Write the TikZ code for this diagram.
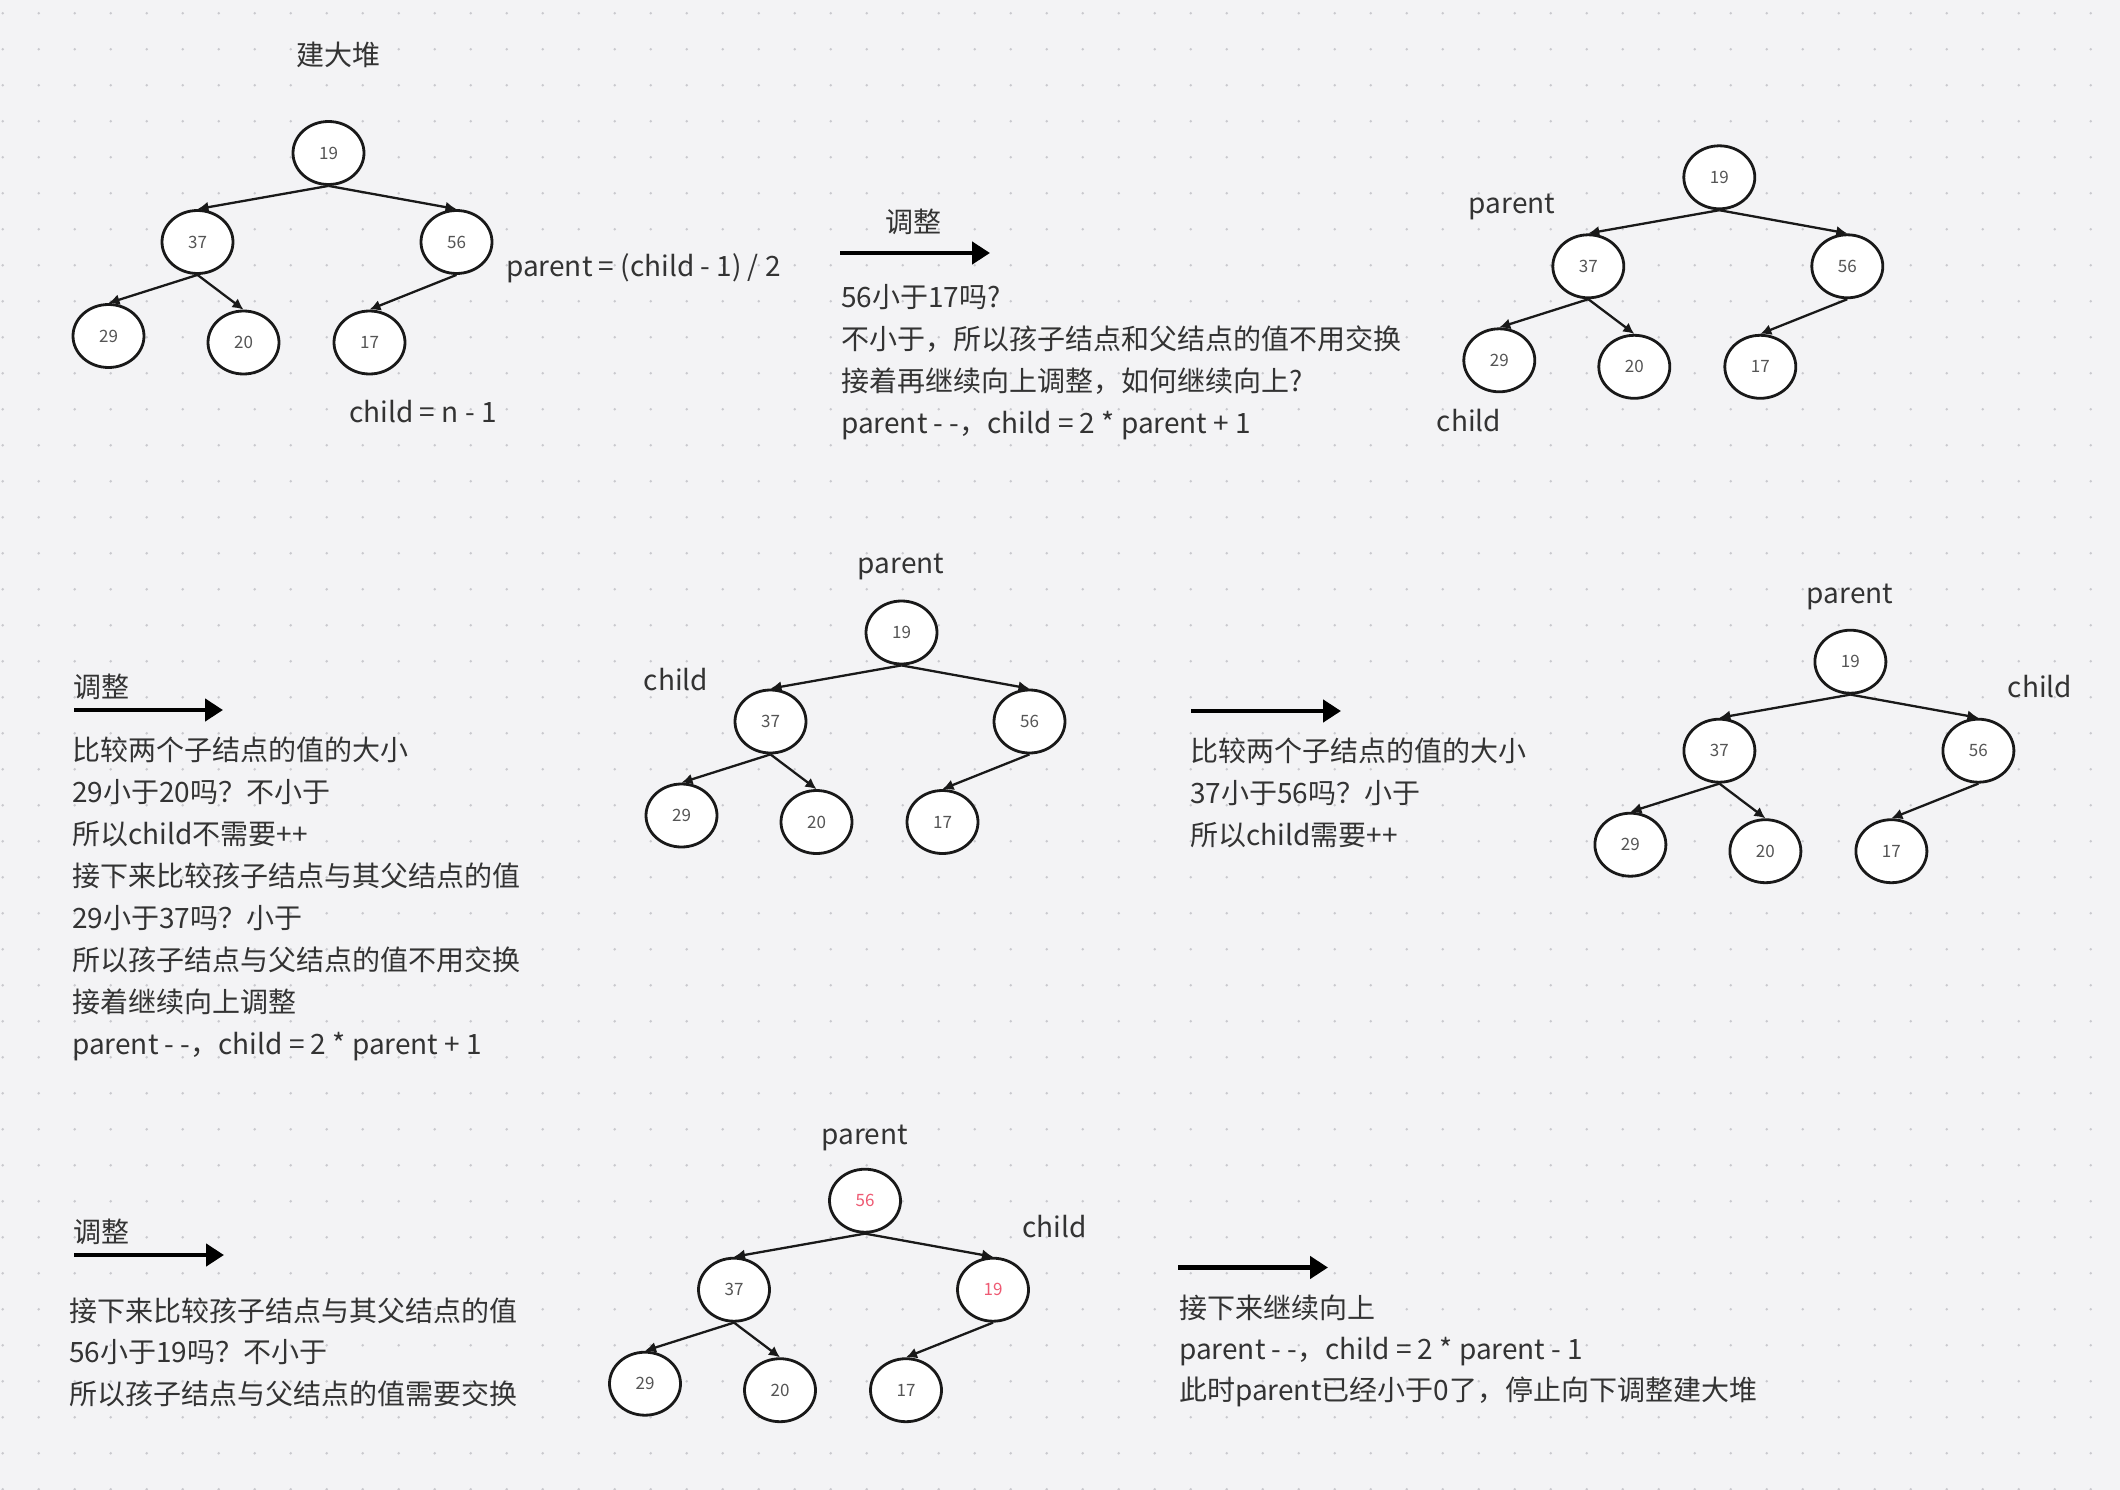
\documentclass[tikz,border=0pt]{standalone}
\usepackage{fontspec}
\usetikzlibrary{arrows.meta,shapes.geometric}
\newfontfamily\cjk{Noto Sans CJK SC}
\definecolor{bgc}{HTML}{F3F3F5}
\definecolor{dotc}{HTML}{C9C9CE}
\definecolor{tcol}{HTML}{333333}
\definecolor{ncol}{HTML}{555555}
\definecolor{hred}{HTML}{EE5A73}
\tikzset{
  txt/.style={font=\cjk\fontsize{28pt}{34pt}\selectfont, text=tcol, inner sep=0pt, text height=24.6pt, text depth=3.4pt},
  hnode/.style={ellipse, draw=black!90, line width=2.8pt, fill=white, minimum width=71pt, minimum height=63pt, inner sep=0pt, font=\cjk\fontsize{17pt}{20pt}\selectfont, text=ncol},
  hedge/.style={line width=2.3pt, draw=black!90, -{Latex[length=11pt,width=11pt]}},
  bigarrow/.style={line width=4.5pt, draw=black, -{Triangle[length=18pt,width=22pt]}}
}
\newcommand\drawheap[9]{%
  \begin{scope}[shift={(#2,#3)}]
    \node[hnode] (#1r) at (0,0) {#4};
    \node[hnode] (#1a) at (-131,89) {#5};
    \node[hnode] (#1b) at (128,89) {#6};
    \node[hnode] (#1c) at (-220,183) {#7};
    \node[hnode] (#1d) at (-85,189.5) {#8};
    \node[hnode] (#1e) at (41,189.5) {#9};
    \draw[hedge] (#1r.south) -- (#1a.north);
    \draw[hedge] (#1r.south) -- (#1b.north);
    \draw[hedge] (#1a.south) -- (#1c.north);
    \draw[hedge] (#1a.south) -- (#1d.north);
    \draw[hedge] (#1b.south) -- (#1e.north);
  \end{scope}%
}
\begin{document}
\begin{tikzpicture}[x=1pt,y=-1pt]
\useasboundingbox (0,0) rectangle (2120,1490);
\fill[bgc] (0,0) rectangle (2120,1490);
\foreach \i in {0,...,58} {
  \foreach \j in {0,...,41} {
    \fill[dotc] (2.7+36*\i, 13.3+36*\j) circle (1.4pt);
  }
}

% ---------- Tree 1 ----------
\node[txt] (title) at (338,55) {建大堆};
\drawheap{ta}{328.5}{153}{19}{37}{56}{29}{20}{17}
\node[txt, anchor=west] (formula) at (506,266) {parent = (child - 1) / 2};
\node[txt] (childn) at (423,412) {child = n - 1};

% ---------- Step 1 ----------
\coordinate (a1s) at (840,253);
\coordinate (a1e) at (990,253);
\draw[bigarrow] (a1s) -- (a1e);
\node[txt] (adj1) at (913,222) {调整};
\node[txt, anchor=west] (b1a) at (841,297) {56小于17吗?};
\node[txt, anchor=west] (b1b) at (841,339) {不小于，所以孩子结点和父结点的值不用交换};
\node[txt, anchor=west] (b1c) at (841,381) {接着再继续向上调整，如何继续向上?};
\node[txt, anchor=west] (b1d) at (841,423) {parent - -，child = 2 * parent + 1};

% ---------- Tree 2 ----------
\drawheap{tb}{1719.3}{177.3}{19}{37}{56}{29}{20}{17}
\node[txt] (tbp) at (1512,203) {parent};
\node[txt] (tbc) at (1469,421) {child};

% ---------- Step 2 ----------
\coordinate (a2s) at (74,710);
\coordinate (a2e) at (223,710);
\draw[bigarrow] (a2s) -- (a2e);
\node[txt] (adj2) at (101,687) {调整};
\node[txt, anchor=west] (b2a) at (72,750) {比较两个子结点的值的大小};
\node[txt, anchor=west] (b2b) at (72,792) {29小于20吗？不小于};
\node[txt, anchor=west] (b2c) at (72,834) {所以child不需要++};
\node[txt, anchor=west] (b2d) at (72,876) {接下来比较孩子结点与其父结点的值};
\node[txt, anchor=west] (b2e) at (72,918) {29小于37吗？小于};
\node[txt, anchor=west] (b2f) at (72,960) {所以孩子结点与父结点的值不用交换};
\node[txt, anchor=west] (b2g) at (72,1002) {接着继续向上调整};
\node[txt, anchor=west] (b2h) at (72,1044) {parent - -，child = 2 * parent + 1};

% ---------- Tree 3 ----------
\drawheap{tc}{901.5}{632.5}{19}{37}{56}{29}{20}{17}
\node[txt] (tcp) at (901,563) {parent};
\node[txt] (tcc) at (676,680) {child};

% ---------- Step 3 ----------
\coordinate (a3s) at (1191,711);
\coordinate (a3e) at (1341,711);
\draw[bigarrow] (a3s) -- (a3e);
\node[txt, anchor=west] (b3a) at (1190,751) {比较两个子结点的值的大小};
\node[txt, anchor=west] (b3b) at (1190,793) {37小于56吗？小于};
\node[txt, anchor=west] (b3c) at (1190,835) {所以child需要++};

% ---------- Tree 5 ----------
\drawheap{te}{1850.4}{661.7}{19}{37}{56}{29}{20}{17}
\node[txt] (tep) at (1850,593) {parent};
\node[txt] (tec) at (2040,687) {child};

% ---------- Step 4 ----------
\coordinate (a4s) at (74,1255);
\coordinate (a4e) at (224,1255);
\draw[bigarrow] (a4s) -- (a4e);
\node[txt] (adj4) at (101,1232) {调整};
\node[txt, anchor=west] (b4a) at (69,1311) {接下来比较孩子结点与其父结点的值};
\node[txt, anchor=west] (b4b) at (69,1352) {56小于19吗？不小于};
\node[txt, anchor=west] (b4c) at (69,1394) {所以孩子结点与父结点的值需要交换};

% ---------- Tree 4 ----------
\drawheap{td}{865}{1200.7}{\textcolor{hred}{56}}{37}{\textcolor{hred}{19}}{29}{20}{17}
\node[txt] (tdp) at (864.5,1134) {parent};
\node[txt] (tdc) at (1054.6,1227) {child};

% ---------- Step 5 ----------
\coordinate (a5s) at (1178,1267.5);
\coordinate (a5e) at (1328,1267.5);
\draw[bigarrow] (a5s) -- (a5e);
\node[txt, anchor=west] (b5a) at (1179,1308) {接下来继续向上};
\node[txt, anchor=west] (b5b) at (1179,1349) {parent - -，child = 2 * parent - 1};
\node[txt, anchor=west] (b5c) at (1179,1390) {此时parent已经小于0了，停止向下调整建大堆};
\end{tikzpicture}
\end{document}
